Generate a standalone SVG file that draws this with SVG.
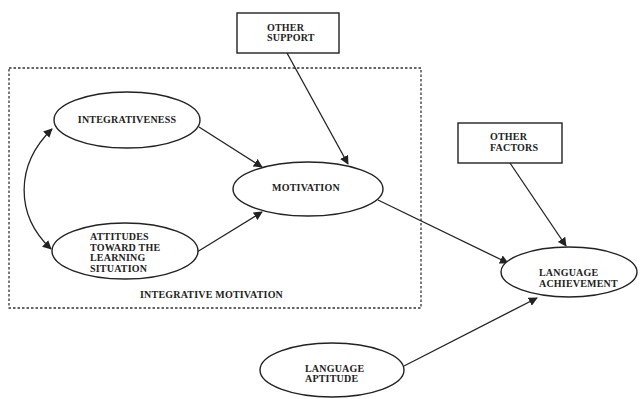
<svg xmlns="http://www.w3.org/2000/svg" width="641" height="399" viewBox="0 0 641 399">
<style>
.n{fill:#fff;stroke:#222;stroke-width:1.4}
.t{font-family:"Liberation Serif",serif;font-weight:bold;font-size:10px;letter-spacing:0.2px;fill:#222}
.c{fill:none;stroke:#222;stroke-width:1.3}
</style>
<defs>
<marker id="ah" viewBox="0 0 10 10" refX="9" refY="5" markerWidth="9" markerHeight="9" markerUnits="userSpaceOnUse" orient="auto-start-reverse">
<path d="M0,0 L10,5 L0,10 z" fill="#222"/>
</marker>
</defs>
<rect width="641" height="399" fill="#fff"/>
<g id="integrative-motivation">
<rect x="9" y="68" width="412" height="240" fill="none" stroke="#333" stroke-width="1.3" stroke-dasharray="2.5,2"/>
<text class="t" x="140" y="298">INTEGRATIVE MOTIVATION</text>
</g>
<g id="connectors">
<path class="c" d="M52,129 C15,165 15,215 51,249" marker-start="url(#ah)" marker-end="url(#ah)"/>
<line class="c" x1="199" y1="127" x2="262" y2="167" marker-end="url(#ah)"/>
<line class="c" x1="197" y1="252" x2="262" y2="212" marker-end="url(#ah)"/>
<line class="c" x1="287" y1="53" x2="348" y2="164" marker-end="url(#ah)"/>
<line class="c" x1="378" y1="200" x2="508" y2="263" marker-end="url(#ah)"/>
<line class="c" x1="510" y1="163" x2="566" y2="246" marker-end="url(#ah)"/>
<line class="c" x1="404" y1="366" x2="537" y2="298" marker-end="url(#ah)"/>
</g>
<g id="integrativeness">
<ellipse class="n" cx="127" cy="120" rx="73" ry="28"/>
<text class="t" x="127" y="123" text-anchor="middle">INTEGRATIVENESS</text>
</g>
<g id="attitudes">
<ellipse class="n" cx="125" cy="251" rx="73" ry="28"/>
<text class="t" x="90" y="240">ATTITUDES</text>
<text class="t" x="90" y="251">TOWARD THE</text>
<text class="t" x="90" y="261">LEARNING</text>
<text class="t" x="90" y="272">SITUATION</text>
</g>
<g id="motivation">
<ellipse class="n" cx="308" cy="189" rx="75" ry="27"/>
<text class="t" x="306" y="191" text-anchor="middle">MOTIVATION</text>
</g>
<g id="other-support">
<rect class="n" x="237" y="13" width="102" height="40"/>
<text class="t" x="267" y="31">OTHER</text>
<text class="t" x="267" y="41">SUPPORT</text>
</g>
<g id="other-factors">
<rect class="n" x="458" y="123" width="104" height="40"/>
<text class="t" x="490" y="140">OTHER</text>
<text class="t" x="490" y="151">FACTORS</text>
</g>
<g id="language-achievement">
<ellipse class="n" cx="569" cy="272" rx="68" ry="25"/>
<text class="t" x="539" y="276">LANGUAGE</text>
<text class="t" x="539" y="287">ACHIEVEMENT</text>
</g>
<g id="language-aptitude">
<ellipse class="n" cx="332" cy="370" rx="72" ry="27"/>
<text class="t" x="305" y="372">LANGUAGE</text>
<text class="t" x="305" y="382">APTITUDE</text>
</g>
</svg>
